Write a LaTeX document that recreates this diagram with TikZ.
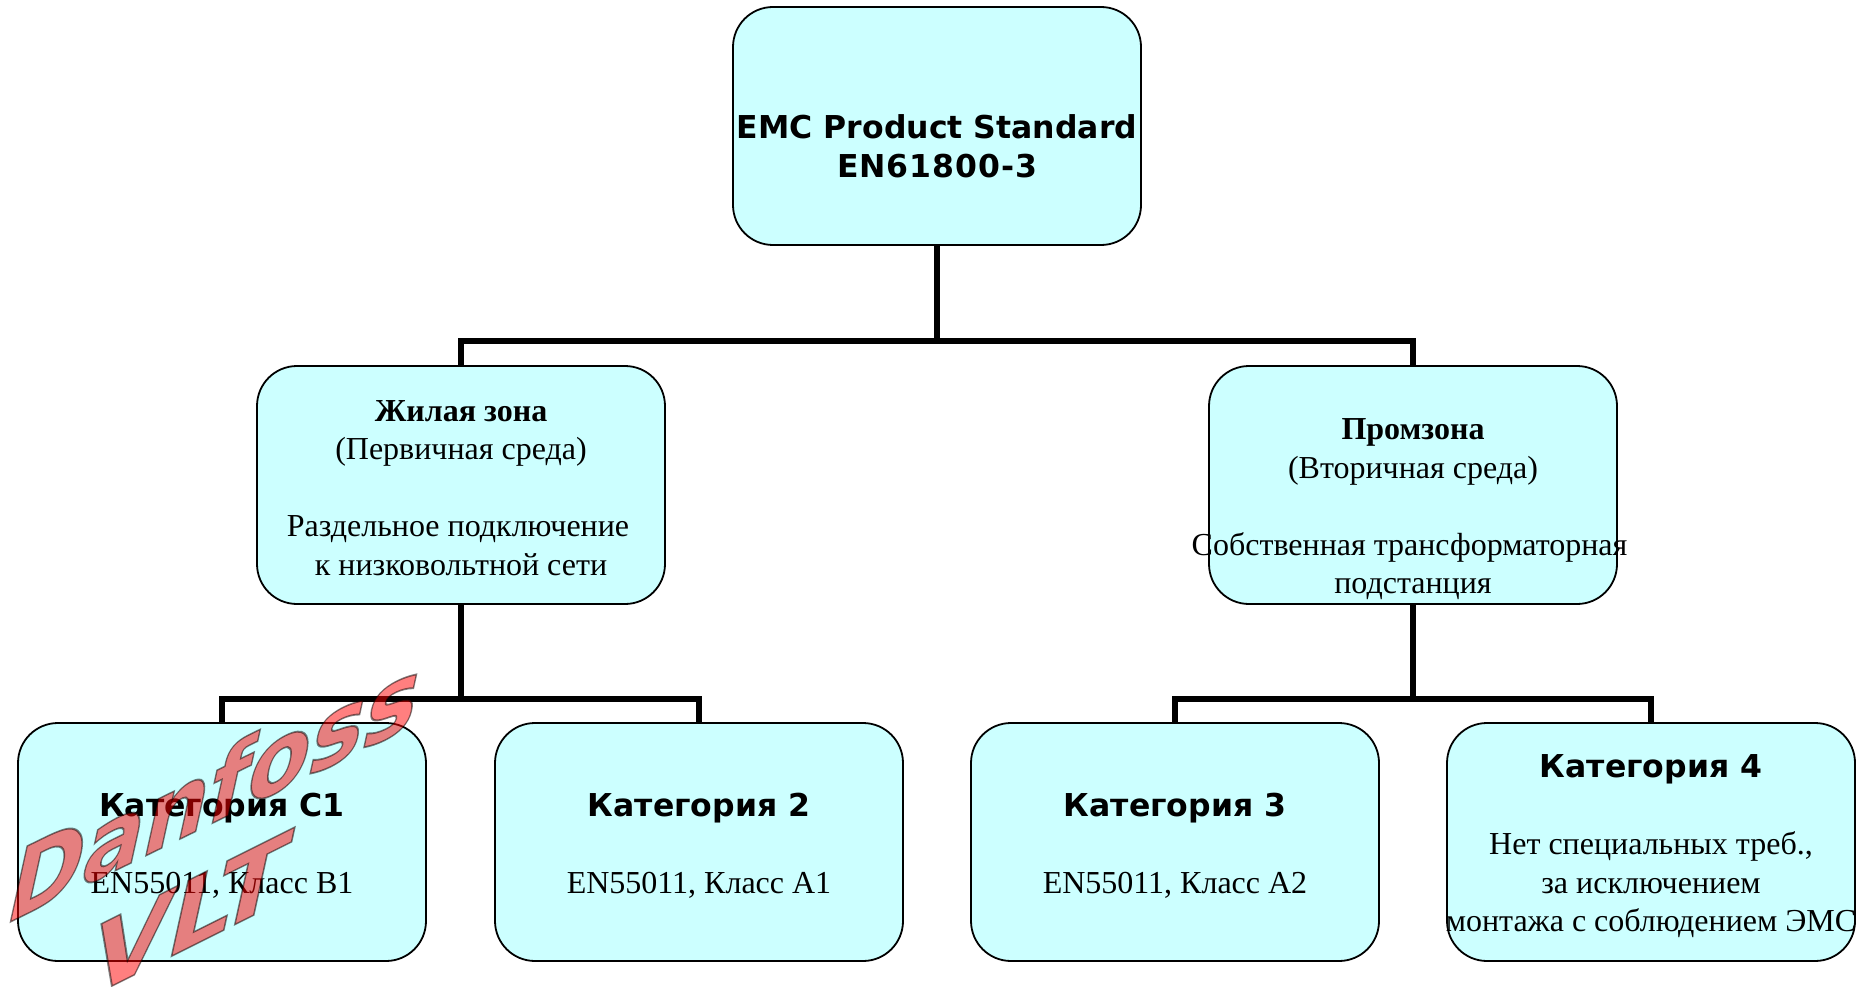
\documentclass[tikz,border=0pt]{standalone}
\usepackage{fontspec}
\setmainfont{Liberation Serif}
\newfontfamily\hdfont{DejaVu Sans}
\usetikzlibrary{calc}
\newcommand{\wide}[1]{\makebox[0pt]{#1}}
\newcommand{\hd}[1]{{\hdfont\bfseries\fontsize{31.5}{38.5}\selectfont #1}}
\newcommand{\outl}[1]{\special{pdf:code q 2 Tr 1.8 w 0 0 0 RG}#1\special{pdf:code Q}}
\tikzset{
  box/.style={draw=black,line width=1.8pt,fill=boxfill,rounded corners=40pt,minimum width=408pt,minimum height=238pt,inner sep=0pt,align=center,font=\fontsize{32}{38.5}\selectfont},
  wire/.style={line width=6pt,line join=miter,line cap=butt},
  wm/.style={inner sep=0pt,anchor=base west,text=red,fill opacity=.5,text opacity=.5,font=\hdfont\bfseries\fontsize{104}{104}\selectfont},
}
\definecolor{boxfill}{HTML}{CCFFFF}
\begin{document}
\begin{tikzpicture}[x=1pt,y=-1pt]
\useasboundingbox (0,0) rectangle (1865,987);
\node[box] (root) at (937,126) {~\\[26pt]\hd{EMC Product Standard}\\\hd{\addfontfeature{LetterSpace=3}EN61800-3}};
\node[box] (res) at (461,485) {~\\[-12pt]\textbf{Жилая зона}\\(Первичная среда)\\~\\\wide{Раздельное подключение\hspace*{6pt}}\\к низковольтной сети};
\node[box] (ind) at (1413,485) {~\\[31pt]\textbf{Промзона}\\(Вторичная среда)\\~\\\wide{Собственная трансформаторная\hspace{7pt}}\\подстанция};
\node[box] (c1) at (222,842) {~\\[-7pt]\hd{Категория С1}\\~\\EN55011, Класс B1};
\node[box] (c2) at (699,842) {~\\[-7pt]\hd{Категория 2}\\~\\EN55011, Класс А1};
\node[box] (c3) at (1175,842) {~\\[-7pt]\hd{Категория 3}\\~\\EN55011, Класс А2};
\node[box] (c4) at (1651,842) {~\\[-7pt]\hd{Категория 4}\\~\\Нет специальных треб.,\\за исключением\\\wide{монтажа с соблюдением ЭМС}};
\coordinate (busa) at ($(root.south)+(0,95)$);
\coordinate (busb) at ($(res.south)+(0,94)$);
\coordinate (busc) at ($(ind.south)+(0,94)$);
\draw[wire] (root.south) -- (busa);
\draw[wire] (res.north) |- (busa);
\draw[wire] (ind.north) |- (busa);
\draw[wire] (res.south) -- (busb);
\draw[wire] (c1.north) |- (busb);
\draw[wire] (c2.north) |- (busb);
\draw[wire] (ind.south) -- (busc);
\draw[wire] (c3.north) |- (busc);
\draw[wire] (c4.north) |- (busc);
\node[wm,cm={.87,.425,.22,1,(0,0)}] (w1) at (2,926) {\outl{Danfoss}};
\node[wm,cm={.97,.485,.22,1,(0,0)}] (w2) at (84,1000) {\outl{VLT}};
\end{tikzpicture}
\end{document}
